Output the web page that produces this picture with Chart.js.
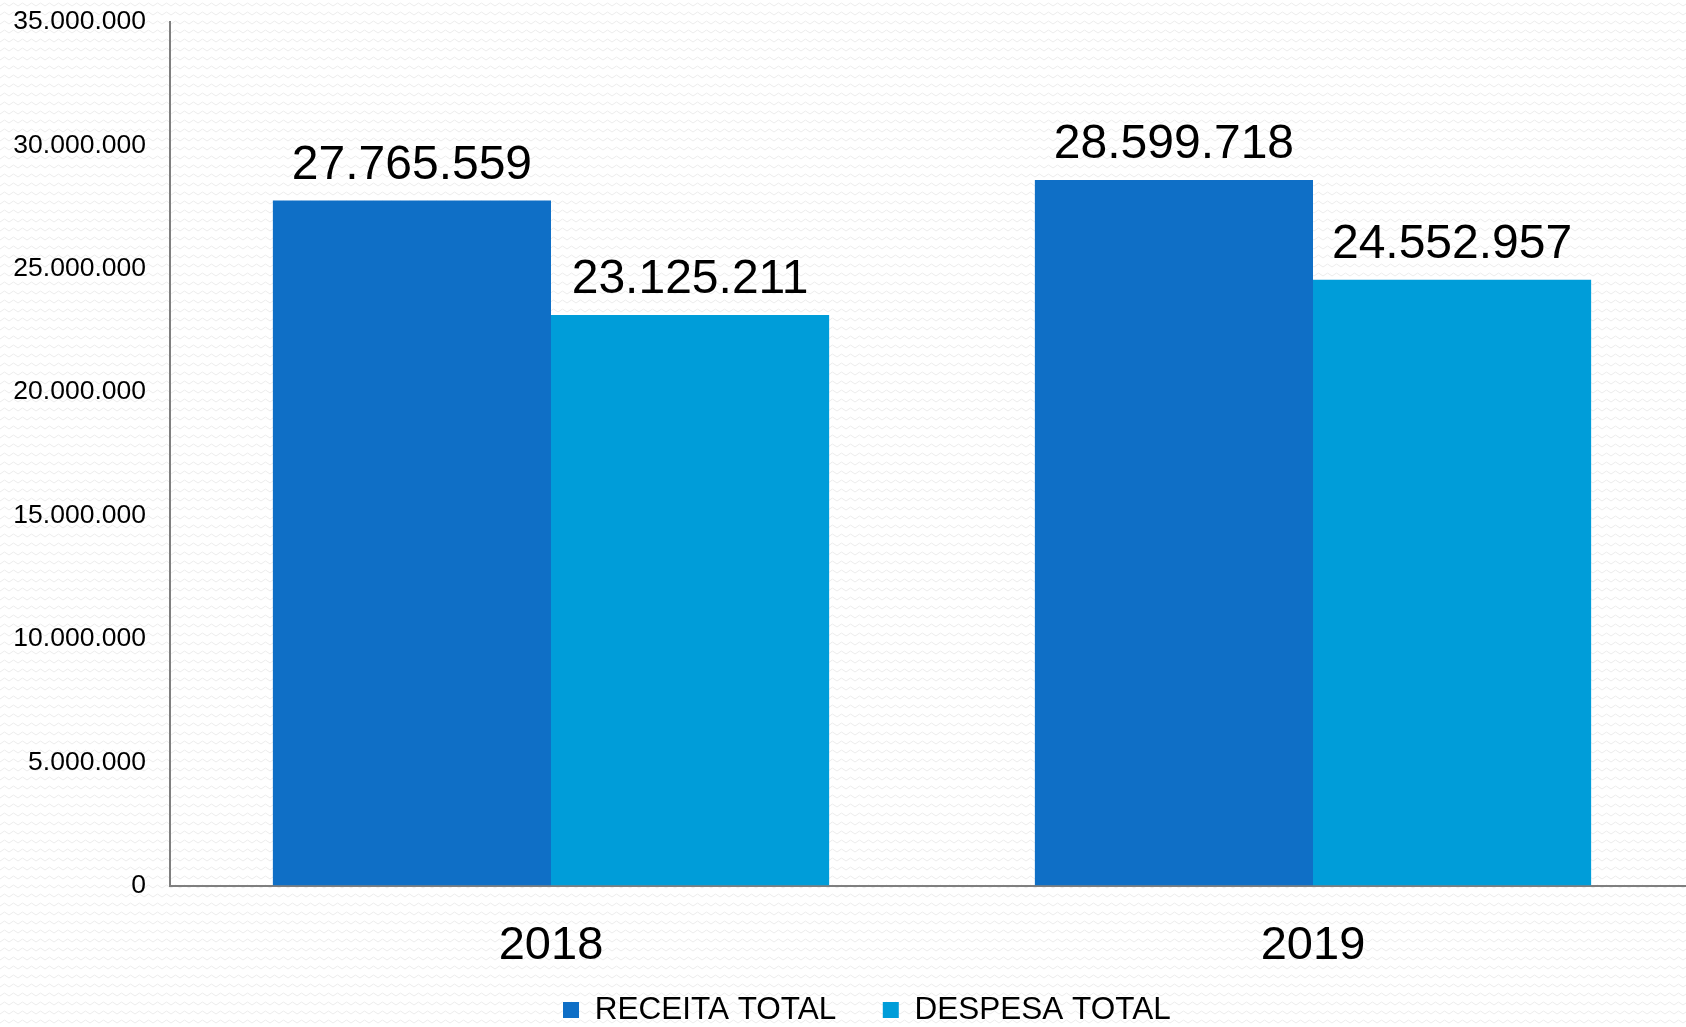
<!DOCTYPE html>
<html>
<head>
<meta charset="utf-8">
<script src="https://cdn.jsdelivr.net/npm/chart.js@4.4.1/dist/chart.umd.min.js"></script>
<style>
  html, body { margin: 0; padding: 0; overflow: hidden; background: #ffffff; }
  #wrap { width: 1700px; height: 1027px; }
</style>
</head>
<body>
<div id="wrap"><canvas id="c" width="1700" height="1027"></canvas></div>
<script>
const categories = ['2018', '2019'];
const receitaTotal = [27765559, 28599718];
const despesaTotal = [23125211, 24552957];
const seriesNames = ['RECEITA TOTAL', 'DESPESA TOTAL'];
const yMax = 35000000;
const yStep = 5000000;

function fmt(n) {
  return String(Math.round(n)).replace(/\B(?=(\d{3})+(?!\d))/g, '.');
}

const FONT = "'Liberation Sans', Arial, sans-serif";

const bgPlugin = {
  id: 'bgPattern',
  beforeDraw(chart) {
    const ctx = chart.ctx;
    const t = document.createElement('canvas');
    t.width = 9; t.height = 9;
    const tc = t.getContext('2d');
    tc.fillStyle = '#ffffff';
    tc.fillRect(0, 0, 9, 9);
    tc.strokeStyle = '#ececec';
    tc.lineWidth = 1;
    tc.beginPath();
    tc.moveTo(0, 6); tc.lineTo(4.5, 3); tc.lineTo(9, 6);
    tc.stroke();
    ctx.save();
    ctx.fillStyle = ctx.createPattern(t, 'repeat');
    ctx.fillRect(0, 0, chart.width, chart.height);
    ctx.restore();
  }
};

const legendPlace = {
  id: 'legendPlace',
  afterLayout(chart) {
    const lg = chart.legend;
    if (!lg || !lg.lineWidths) return;
    const pad = lg.options.labels.padding;
    const fs = lg.options.labels.font.size;
    const start = (lg.left + pad + lg.right - lg.lineWidths[0]) / 2;
    const dx = 563 - start;
    lg.left += dx; lg.right += dx;
    const cy = lg.top + pad + fs / 2;
    const dy = 1010 - cy;
    lg.top += dy; lg.bottom += dy;
  }
};

const valueLabels = {
  id: 'valueLabels',
  afterDatasetsDraw(chart) {
    const ctx = chart.ctx;
    ctx.save();
    ctx.font = '48px ' + FONT;
    ctx.fillStyle = '#000000';
    ctx.textAlign = 'center';
    ctx.textBaseline = 'alphabetic';
    chart.data.datasets.forEach((ds, i) => {
      const meta = chart.getDatasetMeta(i);
      meta.data.forEach((el, j) => {
        ctx.fillText(fmt(ds.data[j]), el.x, el.y - 22);
      });
    });
    ctx.restore();
  }
};

new Chart(document.getElementById('c'), {
  type: 'bar',
  data: {
    labels: categories,
    datasets: [
      { label: seriesNames[0], data: receitaTotal, backgroundColor: '#0F6FC6', borderWidth: 0 },
      { label: seriesNames[1], data: despesaTotal, backgroundColor: '#009DD9', borderWidth: 0 }
    ]
  },
  options: {
    responsive: false,
    animation: false,
    layout: { padding: { left: 14, top: 22, right: 6, bottom: -67 } },
    datasets: { bar: { categoryPercentage: 0.73, barPercentage: 1.0 } },
    plugins: {
      tooltip: { enabled: false },
      legend: {
        position: 'bottom',
        labels: {
          font: { family: FONT, size: 31.5 },
          color: '#000000',
          boxWidth: 16,
          boxHeight: 16,
          padding: 46.5
        }
      }
    },
    scales: {
      x: {
        grid: { display: false, drawTicks: false },
        border: { display: true, color: '#7f7f7f', width: 2 },
        ticks: { font: { family: FONT, size: 47 }, color: '#000000', padding: 32 }
      },
      y: {
        min: 0,
        max: yMax,
        afterFit(scale) { scale.width = 156; scale.paddingTop = 0; scale.paddingBottom = 0; },
        grid: { display: false, drawTicks: false },
        border: { display: true, color: '#7f7f7f', width: 2 },
        ticks: {
          stepSize: yStep,
          font: { family: FONT, size: 26.5 },
          color: '#000000',
          padding: 24,
          callback: (v) => fmt(v)
        }
      }
    }
  },
  plugins: [bgPlugin, legendPlace, valueLabels]
});
</script>
</body>
</html>
